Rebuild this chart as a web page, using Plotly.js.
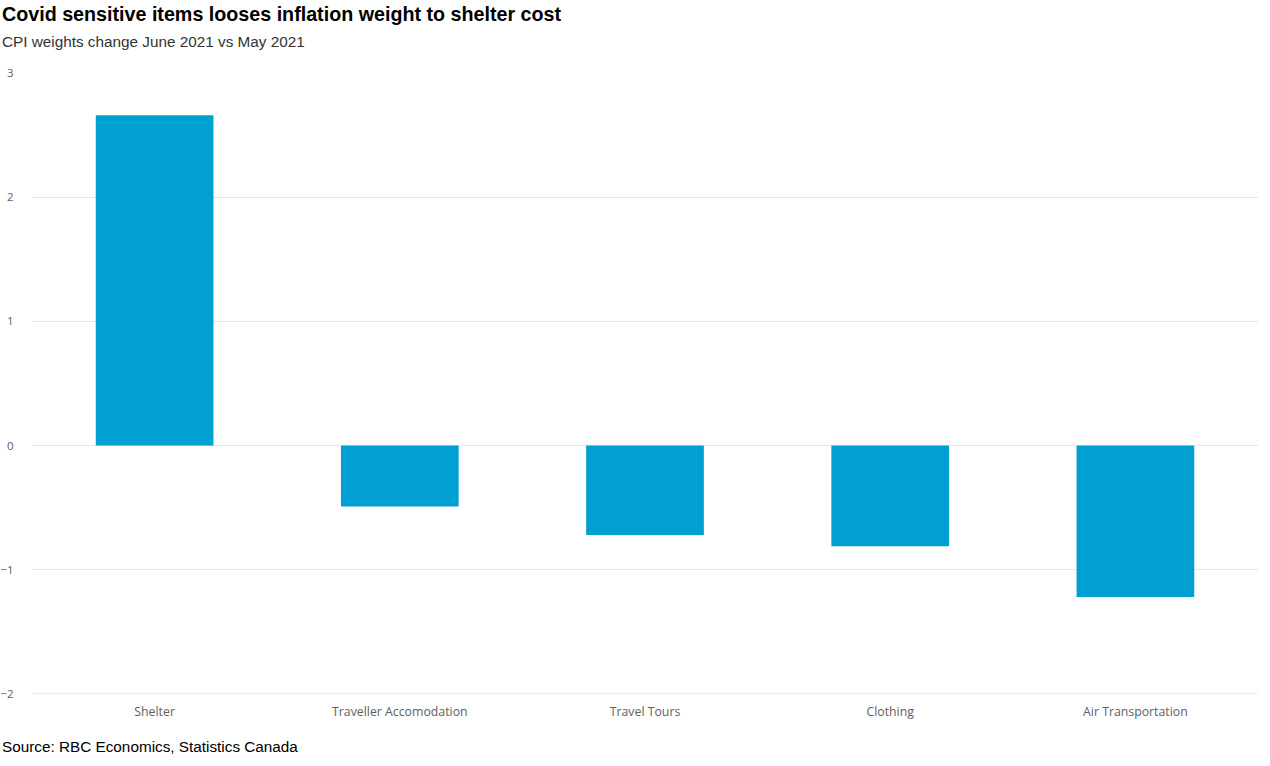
<!DOCTYPE html>
<html>
<head>
<meta charset="utf-8">
<script src="https://cdn.plot.ly/plotly-3.0.1.min.js"></script>
<style>html,body{margin:0;padding:0;background:#fff;}#chart{width:1270px;height:766px;}</style>
</head>
<body>
<div id="chart"></div>
<script>
const categories = ["Shelter", "Traveller Accomodation", "Travel Tours", "Clothing", "Air Transportation"];
const weightChange = [2.66, -0.49, -0.72, -0.81, -1.22];
const yTicks = [-2, -1, 0, 1, 2, 3];

const trace = {
  type: 'bar',
  x: categories,
  y: weightChange,
  marker: {color: '#00A0D3'},
  hoverinfo: 'x+y'
};

const layout = {
  width: 1270, height: 766,
  margin: {l: 32, r: 12, t: 73, b: 72},
  paper_bgcolor: '#fff', plot_bgcolor: '#fff',
  bargap: 0.52,
  showlegend: false,
  xaxis: {
    type: 'category',
    showgrid: false,
    zeroline: false,
    showline: false,
    ticks: 'outside', ticklen: 6, tickcolor: 'rgba(0,0,0,0)',
    tickfont: {family: '"Open Sans", "DejaVu Sans", sans-serif', size: 12.3, color: '#606060'}
  },
  yaxis: {
    range: [-2, 3],
    tickvals: yTicks,
    showgrid: true, gridcolor: '#e6e6e6', gridwidth: 1,
    zeroline: false,
    showline: false,
    ticks: 'outside', ticklen: 15, tickcolor: 'rgba(0,0,0,0)',
    tickfont: {family: '"Open Sans", "DejaVu Sans", sans-serif', size: 11.5, color: '#606060'}
  },
  shapes: [{
    type: 'line', xref: 'paper', yref: 'y', x0: 0, x1: 1, y0: -2, y1: -2,
    line: {color: '#ccd6eb', width: 1}
  }],
  annotations: [
    {text: '<b>Covid sensitive items looses inflation weight to shelter cost</b>', xref: 'paper', yref: 'paper',
     x: 0, xanchor: 'left', y: 1, yanchor: 'middle', yshift: 59, xshift: -32, showarrow: false,
     font: {family: '"Liberation Sans", Arial, sans-serif', size: 19.7, color: '#000'}},
    {text: 'CPI weights change June 2021 vs May 2021', xref: 'paper', yref: 'paper',
     x: 0, xanchor: 'left', y: 1, yanchor: 'middle', yshift: 32, xshift: -32, showarrow: false,
     font: {family: '"Liberation Sans", Arial, sans-serif', size: 15.3, color: '#333'}},
    {text: 'Source: RBC Economics, Statistics Canada', xref: 'paper', yref: 'paper',
     x: 0, xanchor: 'left', y: 0, yanchor: 'middle', yshift: -52, xshift: -32, showarrow: false,
     font: {family: '"Liberation Sans", Arial, sans-serif', size: 15.3, color: '#000'}}
  ]
};

Plotly.newPlot('chart', [trace], layout, {displayModeBar: false, staticPlot: true});
</script>
</body>
</html>
